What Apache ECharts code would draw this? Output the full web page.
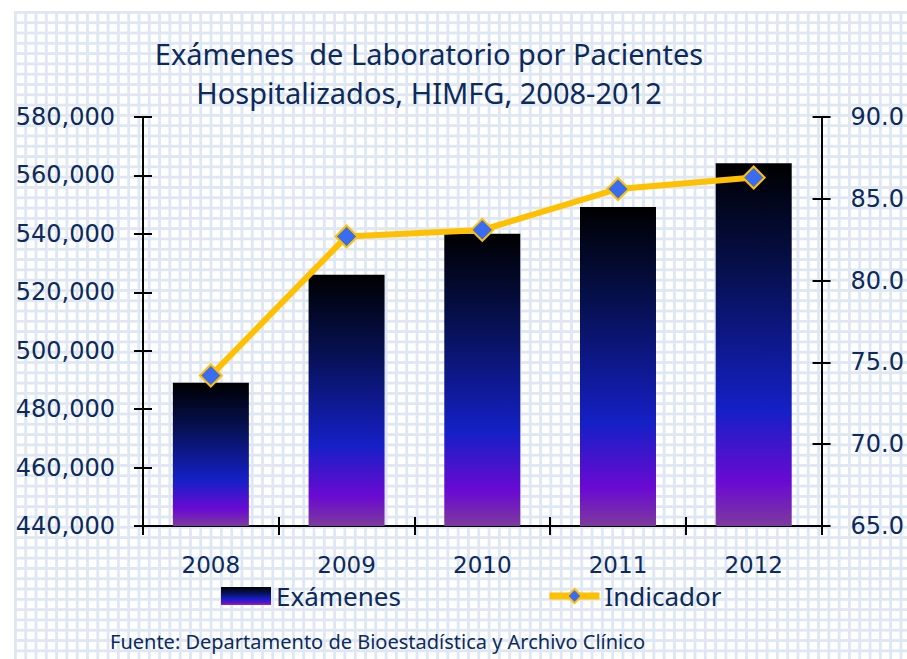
<!DOCTYPE html>
<html>
<head>
<meta charset="utf-8">
<script src="https://cdn.jsdelivr.net/npm/echarts@6/dist/echarts.min.js"></script>
<style>
html,body{margin:0;padding:0;background:#fff;}
#bg{position:absolute;left:14px;top:11px;width:893px;height:648px;
background-color:#fff;
background-image:linear-gradient(to right,#dfe7f3 3px,transparent 3px),linear-gradient(to bottom,#dfe7f3 3px,transparent 3px);
background-size:10.3px 10.3px;}
#chart{position:absolute;left:0;top:0;width:907px;height:659px;}
</style>
</head>
<body>
<div id="bg"></div>
<div id="chart"></div>
<script>
const categories = ['2008', '2009', '2010', '2011', '2012'];
const examenes = [489000, 526000, 540000, 549200, 564200];
const indicador = [74.2, 82.7, 83.1, 85.6, 86.3];
const leftTicks = { min: 440000, max: 580000, interval: 20000 };
const rightTicks = { min: 65, max: 90, interval: 5 };
const titleLines = ['Exámenes  de Laboratorio por Pacientes', 'Hospitalizados, HIMFG, 2008-2012'];
const sourceText = 'Fuente: Departamento de Bioestadística y Archivo Clínico';

const comic = 'Comic Sans MS, Noto Sans, sans-serif';
const tickFont = 'DejaVu Sans, Verdana, sans-serif';
const navy = '#0c2a5c';

const chart = echarts.init(document.getElementById('chart'), null, { renderer: 'svg' });

const barGrad = new echarts.graphic.LinearGradient(0, 0, 0, 1, [
  { offset: 0, color: '#000000' },
  { offset: 0.3, color: '#06104f' },
  { offset: 0.68, color: '#1520c6' },
  { offset: 0.88, color: '#6a0ad2' },
  { offset: 1, color: '#7d3a9c' }
]);

const axisLine = { show: true, lineStyle: { color: '#000', width: 2 } };
const tick = (inside) => ({ show: true, inside: inside, length: 9, lineStyle: { color: '#000', width: 2 } });

function yAx(pos, range, inside, showLabel, margin, fmt) {
  return {
    type: 'value', position: pos, min: range.min, max: range.max, interval: range.interval,
    axisLine: axisLine, axisTick: tick(inside), splitLine: { show: false },
    axisLabel: { show: showLabel, color: navy, fontFamily: tickFont, fontSize: 24, margin: margin, formatter: fmt }
  };
}

const option = {
  backgroundColor: 'transparent',
  animation: false,
  title: [
    { text: titleLines.join('\n'), left: 424, textAlign: 'center', top: 29,
      textStyle: { color: navy, fontFamily: comic, fontSize: 29, fontWeight: 'normal', lineHeight: 39 } },
    { text: sourceText, left: 105, top: 626,
      textStyle: { color: navy, fontFamily: comic, fontSize: 20, fontWeight: 'normal' } }
  ],
  legend: {
    left: 216, top: 578, itemGap: 145, itemWidth: 50, itemHeight: 18,
    textStyle: { color: navy, fontFamily: comic, fontSize: 26 },
    data: [
      { name: 'Exámenes', icon: 'rect' },
      { name: 'Indicador', lineStyle: { width: 7, color: '#ffc000' } }
    ]
  },
  grid: { left: 143, right: 82, top: 117, bottom: 133, containLabel: false },
  xAxis: [
    { type: 'category', data: categories, position: 'bottom',
      axisLine: axisLine, axisTick: tick(false),
      axisLabel: { color: navy, fontFamily: tickFont, fontSize: 23, margin: 27 } },
    { type: 'category', data: categories, position: 'bottom',
      axisLine: { show: false }, axisTick: tick(true), axisLabel: { show: false } }
  ],
  yAxis: [
    yAx('left', leftTicks, false, true, 28, v => v.toLocaleString('en-US')),
    yAx('right', rightTicks, false, true, 29, v => v.toFixed(1)),
    yAx('left', leftTicks, true, false, 8),
    yAx('right', rightTicks, true, false, 8)
  ],
  series: [
    { name: 'Exámenes', type: 'bar', data: examenes, xAxisIndex: 0, yAxisIndex: 0,
      barWidth: 76, itemStyle: { color: barGrad } },
    { name: 'Indicador', type: 'line', data: indicador, xAxisIndex: 0, yAxisIndex: 1,
      symbol: 'diamond', symbolSize: 22,
      lineStyle: { color: '#ffc000', width: 6 },
      itemStyle: { color: '#3a6cf2', borderColor: '#ffc000', borderWidth: 2 } }
  ]
};
chart.setOption(option);
</script>
</body>
</html>
